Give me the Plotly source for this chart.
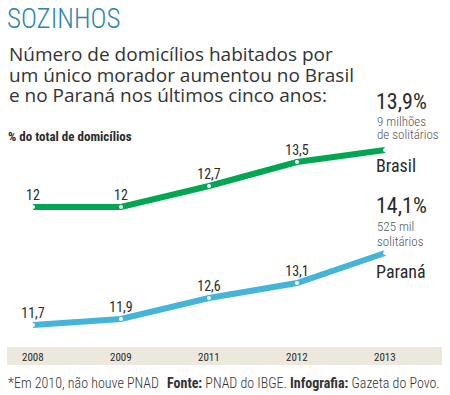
import plotly.graph_objects as go

years = ["2008", "2009", "2011", "2012", "2013"]
brasil = [12.0, 12.0, 12.7, 13.5, 13.9]
parana = [11.7, 11.9, 12.6, 13.1, 14.1]
brasil_labels = ["12", "12", "12,7", "13,5", ""]
parana_labels = ["11,7", "11,9", "12,6", "13,1", ""]

W, H = 450, 395
COND = "Roboto Condensed, DejaVu Sans Condensed, sans-serif"
SANS = "Open Sans, Lato, sans-serif"
GREEN = "#00A651"
BLUE = "#45B4D9"
DARK = "#2b2b2b"

def py(p):
    return 1 - p / H

def px(p):
    return p / W

xi = list(range(len(years)))

fig = go.Figure()
fig.add_trace(go.Scatter(
    x=xi, y=brasil, mode="lines+markers+text", yaxis="y",
    line=dict(color=GREEN, width=6),
    marker=dict(color="white", size=4, line=dict(width=0)),
    text=brasil_labels, textposition="top center",
    textfont=dict(family=COND, size=14, color=DARK),
    hoverinfo="skip", showlegend=False, cliponaxis=False,
))
fig.add_trace(go.Scatter(
    x=xi, y=parana, mode="lines+markers+text", yaxis="y2",
    line=dict(color=BLUE, width=6),
    marker=dict(color="white", size=4, line=dict(width=0)),
    text=parana_labels, textposition="top center",
    textfont=dict(family=COND, size=14, color=DARK),
    hoverinfo="skip", showlegend=False, cliponaxis=False,
))

shapes = [dict(type="rect", xref="paper", yref="paper",
               x0=px(7), x1=px(442), y0=py(365), y1=py(347),
               fillcolor="#ECE8DD", line=dict(width=0), layer="below")]

ann = []
def A(text, x, y, size, color=DARK, family=SANS, weight="normal", xanchor="left", yanchor="middle"):
    ann.append(dict(text=text, x=px(x), y=py(y), xref="paper", yref="paper",
                    showarrow=False, xanchor=xanchor, yanchor=yanchor,
                    font=dict(size=size, color=color, family=family, weight=weight)))

A("SOZINHOS", 5, 19, 27, color="#2E86AB", family=COND, weight=300)
A("Número de domicílios habitados por", 7, 54, 19, color="#333333")
A("um único morador aumentou no Brasil", 7, 75, 19, color="#333333")
A("e no Paraná nos últimos cinco anos:", 7, 95, 19, color="#333333")
A("% do total de domicílios", 6, 136, 13, family=COND, weight="bold")

A("13,9%", 374, 101, 22, family=COND)
A("9 milhões", 375, 121, 13, color="#555555", family=COND, weight=300)
A("de solitários", 375, 134, 13, color="#555555", family=COND, weight=300)
A("Brasil", 374, 165, 18, family=COND)
A("14,1%", 374, 205, 22, family=COND)
A("525 mil", 375, 227, 13, color="#555555", family=COND, weight=300)
A("solitários", 375, 241, 13, color="#555555", family=COND, weight=300)
A("Paraná", 374, 271, 18, family=COND)

for i, yr in enumerate(years):
    ann.append(dict(text=yr, x=i, y=py(357), xref="x", yref="paper",
                    showarrow=False, xanchor="center", yanchor="middle",
                    font=dict(size=11, color=DARK, family=COND)))

A("*Em 2010, não houve PNAD", 6, 383, 14, color="#333333", family=COND, weight=300)
A("<b>Fonte:</b> PNAD do IBGE. <b>Infografia:</b> Gazeta do Povo.", 442, 383, 14,
  color="#333333", family=COND, weight=300, xanchor="right")

# axis ranges: x index -> pixels 33 + 88*i ; y -> 30 px per unit
xa = -33 / 88
xb = xa + W / 88
b_hi = 12 + 207 / 30
b_lo = b_hi - H / 30
p_hi = 11.7 + 325 / 30
p_lo = p_hi - H / 30

fig.update_layout(
    width=W, height=H, autosize=False,
    margin=dict(l=0, r=0, t=0, b=0),
    paper_bgcolor="white", plot_bgcolor="rgba(0,0,0,0)",
    xaxis=dict(range=[xa, xb], visible=False, domain=[0, 1]),
    yaxis=dict(range=[b_lo, b_hi], visible=False, domain=[0, 1]),
    yaxis2=dict(range=[p_lo, p_hi], visible=False, overlaying="y", domain=[0, 1]),
    shapes=shapes, annotations=ann,
)

fig.write_html("out.html", config={"displayModeBar": False},
               post_script="document.body.style.margin='0';document.body.style.overflow='hidden';")
